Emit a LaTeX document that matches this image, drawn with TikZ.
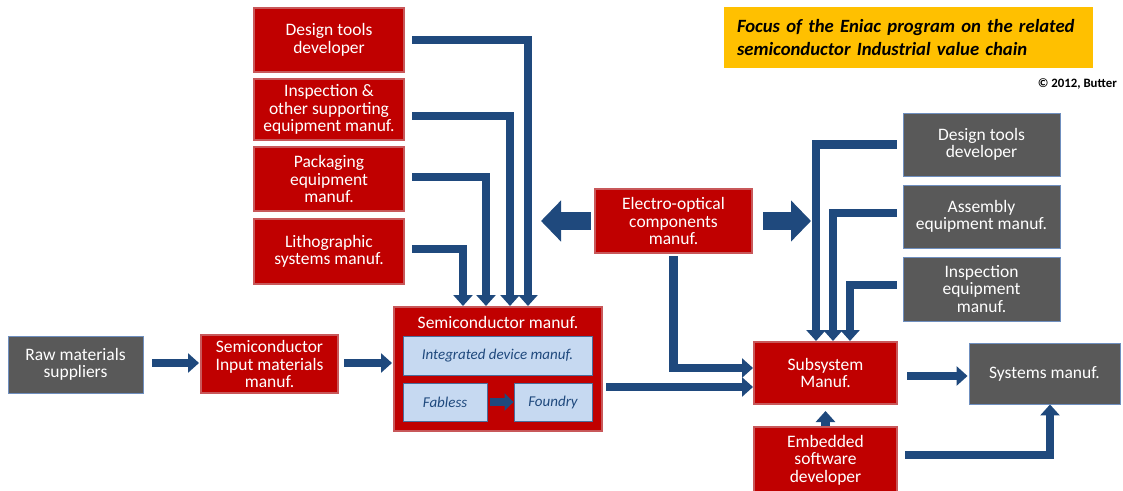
\documentclass[tikz,border=0pt]{standalone}
\usepackage{fontspec}
\setmainfont{Carlito}
\usetikzlibrary{arrows.meta,calc}
\definecolor{boxred}{HTML}{C00000}
\definecolor{redline}{HTML}{C8585A}
\definecolor{boxgrey}{HTML}{595959}
\definecolor{greyline}{HTML}{6F8FBF}
\definecolor{flowblue}{HTML}{1F497D}
\definecolor{innerfill}{HTML}{C6D9F1}
\definecolor{innerline}{HTML}{4A6D9C}
\definecolor{titlegold}{HTML}{FFC000}

\begin{document}
\begin{tikzpicture}[x=1pt,y=-1pt,
  boxtext/.style={text=white,align=center,inner sep=0pt,font=\fontsize{17.5}{17.5}\selectfont},
  redbox/.style={boxtext,draw=redline,line width=2pt,fill=boxred},
  greybox/.style={boxtext,draw=greyline,line width=0.9pt,fill=boxgrey},
  innerbox/.style={draw=innerline,line width=0.9pt,fill=innerfill,text=flowblue,inner sep=0pt,
    font=\fontsize{15}{15}\selectfont\itshape},
  flow/.style={draw=flowblue,line width=8.5pt,-{Triangle[width=19pt,length=11pt]}},
  smallflow/.style={draw=flowblue,line width=8pt,-{Triangle[width=17pt,length=9pt]}},
  bigflow/.style={draw=flowblue,line width=18pt,-{Triangle[width=40pt,length=20pt]}},
]
\useasboundingbox (0,0) rectangle (1123,490);

% heading and credit
\node[fill=titlegold,text width=343pt,inner xsep=13pt,inner ysep=0pt,minimum height=61pt,
  align=left,font=\fontsize{18.7}{23.5}\selectfont\bfseries\itshape] (title) at (908.5,37.5)
  {Focus of the Eniac program on the related\\semiconductor Industrial value chain};
\node[anchor=east,inner sep=0pt,font=\fontsize{12.8}{12.8}\selectfont\bfseries] (credit) at (1117,84)
  {© 2012, Butter};

% equipment and tool suppliers of the chip makers
\node[redbox,minimum width=150pt,minimum height=64pt] (lDesign) at (329,40) {Design tools\\developer};
\node[redbox,minimum width=150pt,minimum height=61pt] (lInsp) at (329,109.5) {Inspection \&\\other supporting\\equipment manuf.};
\node[redbox,minimum width=150pt,minimum height=64pt] (lPack) at (329,179) {Packaging\\equipment\\manuf.};
\node[redbox,minimum width=150pt,minimum height=65pt] (lLitho) at (329,251.5) {Lithographic\\systems manuf.};

% materials chain
\node[greybox,minimum width=135pt,minimum height=57pt] (raw) at (75.5,364.5) {Raw materials\\suppliers};
\node[redbox,minimum width=137pt,minimum height=58pt] (input) at (269.5,364) {Semiconductor\\Input materials\\manuf.};

% semiconductor manufacturing block
\node[draw=redline,line width=2pt,fill=boxred,minimum width=208pt,minimum height=124pt,inner sep=0pt] (semi) at (498,369) {};
\node[boxtext] (semiTitle) at (498,322) {Semiconductor manuf.};
\node[innerbox,minimum width=189pt,minimum height=39pt] (idm) at (497.5,355.5) {Integrated device manuf.};
\node[innerbox,minimum width=84pt,minimum height=38pt] (fab) at (445,402) {Fabless};
\node[innerbox,minimum width=78pt,minimum height=38pt] (found) at (553,402) {Foundry};

% downstream
\node[redbox,minimum width=157pt,minimum height=64pt] (EO) at (673.5,221) {Electro-optical\\components\\manuf.};
\node[redbox,minimum width=143pt,minimum height=62pt] (sub) at (825.5,373) {Subsystem\\Manuf.};
\node[greybox,minimum width=151pt,minimum height=61pt] (sys) at (1044.5,373.5) {Systems manuf.};
\node[redbox,minimum width=143pt,minimum height=66pt] (emb) at (825.5,460) {Embedded\\software\\developer};

% suppliers of the subsystem makers
\node[greybox,minimum width=157pt,minimum height=63pt] (rDesign) at (981.5,144.5) {Design tools\\developer};
\node[greybox,minimum width=157pt,minimum height=63pt] (rAsm) at (981.5,216.5) {Assembly\\equipment manuf.};
\node[greybox,minimum width=157pt,minimum height=64pt] (rInsp) at (981.5,289) {Inspection\\equipment\\manuf.};

% flows into semiconductor manufacturing
\draw[flow] ($(lDesign.east)+(7,0)$) -| ($(semi.north)+(30,0)$);
\draw[flow] ($(lInsp.east)+(7,6.5)$) -| ($(semi.north)+(12,0)$);
\draw[flow] ($(lPack.east)+(7,-2)$) -| ($(semi.north)+(-12,0)$);
\draw[flow] ($(lLitho.east)+(7,-2.5)$) -| ($(semi.north)+(-35,0)$);

\draw[flow] ($(raw.east)+(9,-1.5)$) -- ($(input.west)+(-1,-1)$);
\draw[flow] ($(input.east)+(5,-1)$) -- ($(semi.west |- input.east)+(-1,-1)$);
\draw[smallflow] ($(fab.east)+(3,0)$) -- (found.west);

% electro-optical components
\draw[bigflow] ($(EO.west)+(-3,0)$) -- ($(EO.west)+(-53,0)$);
\draw[bigflow] ($(EO.east)+(10,0)$) -- ($(EO.east)+(58,0)$);
\draw[flow] ($(EO.south)+(0,2)$) |- ($(sub.west)+(0,-5)$);
\draw[flow] ($(semi.east |- sub.west)+(3,14)$) -- ($(sub.west)+(0,14)$);

% flows into subsystem and system manufacturing
\draw[flow] ($(rDesign.west)+(-6,0)$) -| ($(sub.north)+(-9.5,0)$);
\draw[flow] ($(rAsm.west)+(-6,-3.5)$) -| ($(sub.north)+(7.5,0)$);
\draw[flow] ($(rInsp.west)+(-6,-4)$) -| ($(sub.north)+(24.5,0)$);
\draw[flow] ($(sub.east)+(9,3)$) -- ($(sys.west |- sub.east)+(-1,3)$);
\draw[flow] (emb.north) -- ($(sub.south)+(0,6)$);
\draw[flow] ($(emb.east)+(7,-5)$) -| ($(sys.south)+(5.5,0)$);
\end{tikzpicture}
\end{document}
